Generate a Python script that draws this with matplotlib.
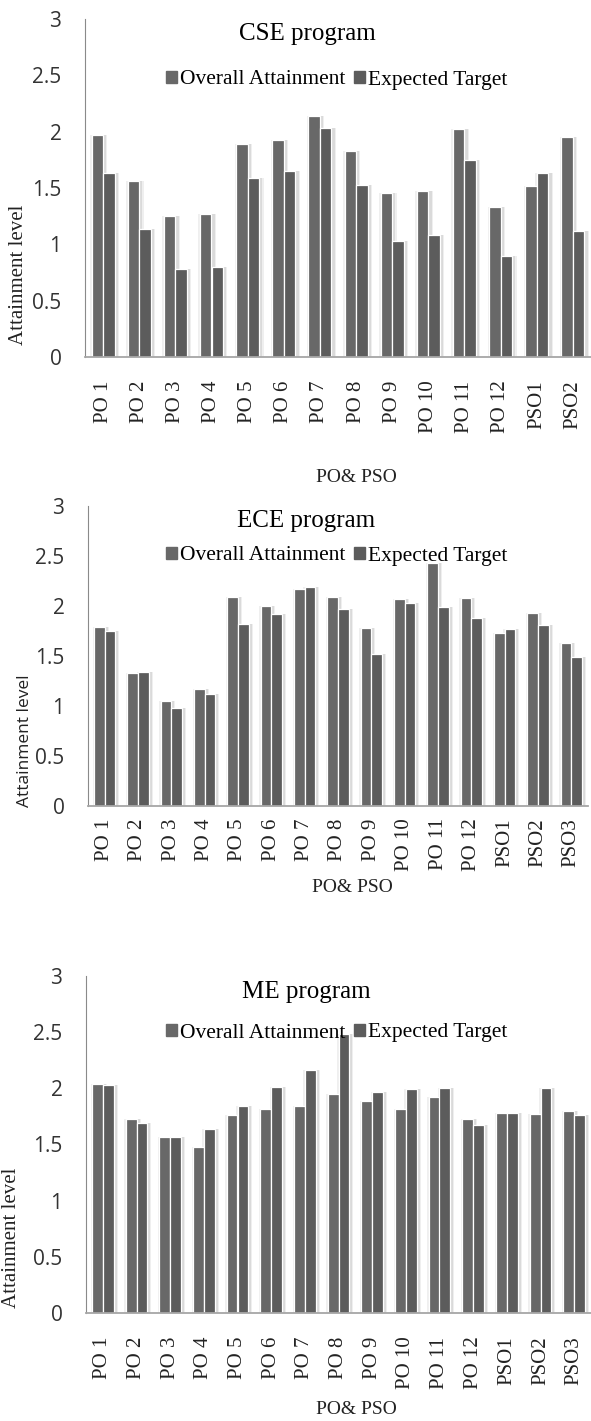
import matplotlib
matplotlib.use("Agg")
import matplotlib.pyplot as plt
from matplotlib.patches import Patch
import numpy as np

# PO / PSO attainment per program
cse_labels = ["PO 1", "PO 2", "PO 3", "PO 4", "PO 5", "PO 6", "PO 7", "PO 8",
              "PO 9", "PO 10", "PO 11", "PO 12", "PSO1", "PSO2"]
cse_overall = [1.97, 1.56, 1.25, 1.27, 1.89, 1.93, 2.14, 1.83, 1.46, 1.47, 2.02, 1.33, 1.52, 1.95]
cse_target = [1.63, 1.14, 0.78, 0.80, 1.59, 1.65, 2.03, 1.53, 1.03, 1.08, 1.75, 0.90, 1.63, 1.12]

ece_labels = ["PO 1", "PO 2", "PO 3", "PO 4", "PO 5", "PO 6", "PO 7", "PO 8",
              "PO 9", "PO 10", "PO 11", "PO 12", "PSO1", "PSO2", "PSO3"]
ece_overall = [1.79, 1.33, 1.05, 1.17, 2.09, 2.00, 2.17, 2.09, 1.78, 2.07, 2.43, 2.08, 1.73, 1.93, 1.63]
ece_target = [1.75, 1.34, 0.98, 1.12, 1.82, 1.92, 2.19, 1.97, 1.52, 2.03, 1.99, 1.88, 1.77, 1.81, 1.49]

me_labels = ["PO 1", "PO 2", "PO 3", "PO 4", "PO 5", "PO 6", "PO 7", "PO 8",
             "PO 9", "PO 10", "PO 11", "PO 12", "PSO1", "PSO2", "PSO3"]
me_overall = [2.04, 1.73, 1.57, 1.48, 1.76, 1.82, 1.84, 1.95, 1.89, 1.82, 1.92, 1.73, 1.78, 1.77, 1.80]
me_target = [2.03, 1.69, 1.57, 1.64, 1.84, 2.01, 2.16, 2.48, 1.97, 1.99, 2.00, 1.67, 1.78, 2.00, 1.76]

W, H = 591, 1421
OVERALL_COL = "#686868"
TARGET_COL = "#5c5c5c"
SERIF = "Liberation Serif"

fig = plt.figure(figsize=(W / 100, H / 100), dpi=100)


def px(x, y):
    # pixel position -> figure fraction
    return x / W, 1 - y / H


def panel(labels, overall, target, box, title, title_xy, legend_xy, ylab_xy,
          xlab_xy, ylab_font, xpad):
    left, top, right, bottom = box
    ax = fig.add_axes([left / W, 1 - bottom / H, (right - left) / W, (bottom - top) / H])
    x = np.arange(len(labels))
    w = 0.32
    # soft glow behind the bars, darker towards the right edge
    for off, extra, col in [(0.04, 0.16, "#efefef"), (0.06, 0.06, "#dadada")]:
        ax.bar(x - w / 2 + off, overall, w + extra, color=col, zorder=1)
        ax.bar(x + w / 2 + off, target, w + extra, color=col, zorder=1)
    ax.bar(x - w / 2, overall, w, color=OVERALL_COL, edgecolor="white", linewidth=0.9, zorder=2)
    ax.bar(x + w / 2, target, w, color=TARGET_COL, edgecolor="white", linewidth=0.9, zorder=2)

    ax.set_xlim(-0.5, len(labels) - 0.5)
    ax.set_ylim(0, 3)
    ax.set_yticks([0, 0.5, 1, 1.5, 2, 2.5, 3])
    ax.set_yticklabels(["0", "0.5", "1", "1.5", "2", "2.5", "3"])
    ax.set_xticks(x)
    ax.set_xticklabels(labels, rotation=90, family=SERIF, fontsize=15, color="#222222")
    ax.tick_params(axis="y", length=0, pad=17, labelsize=15, labelcolor="#333333")
    ax.tick_params(axis="x", length=0, pad=xpad)
    for lab in ax.get_yticklabels():
        lab.set_family("Open Sans")

    for s in ["top", "right"]:
        ax.spines[s].set_visible(False)
    ax.spines["left"].set_color("#8a8a8a")
    ax.spines["left"].set_linewidth(0.8)
    ax.spines["bottom"].set_color("#a6a6a6")
    ax.spines["bottom"].set_linewidth(1.3)
    ax.set_facecolor("white")

    fig.text(*px(*title_xy), title, family=SERIF, fontsize=18, ha="center", va="center")
    handles = [Patch(color=OVERALL_COL), Patch(color=TARGET_COL)]
    fig.legend(handles, ["Overall Attainment", "Expected Target"], loc="center",
               bbox_to_anchor=px(*legend_xy), ncol=2, frameon=False,
               prop={"family": SERIF, "size": 15.5}, handlelength=0.5, handleheight=0.5,
               handletextpad=0.15, columnspacing=0.4, borderpad=0)
    fam, size = ylab_font
    fig.text(*px(*ylab_xy), "Attainment level", family=fam, fontsize=size,
             rotation=90, ha="center", va="center", color="#222222")
    fig.text(*px(*xlab_xy), "PO& PSO", family=SERIF, fontsize=14, ha="center",
             va="center", color="#222222")
    return ax


panel(cse_labels, cse_overall, cse_target, (85, 19, 591, 357), "CSE program",
      (307, 34), (337, 80), (19, 275), (356, 478), (SERIF, 15), 17)
panel(ece_labels, ece_overall, ece_target, (88, 506, 588, 806), "ECE program",
      (306, 521), (337, 556), (25, 741), (352, 888), ("Open Sans", 12.5), 9)
panel(me_labels, me_overall, me_target, (86, 976, 591, 1313), "ME program",
      (306, 992), (337, 1033), (12, 1238), (356, 1410), (SERIF, 15), 17)

fig.savefig("out.png", dpi=100, facecolor="white")
